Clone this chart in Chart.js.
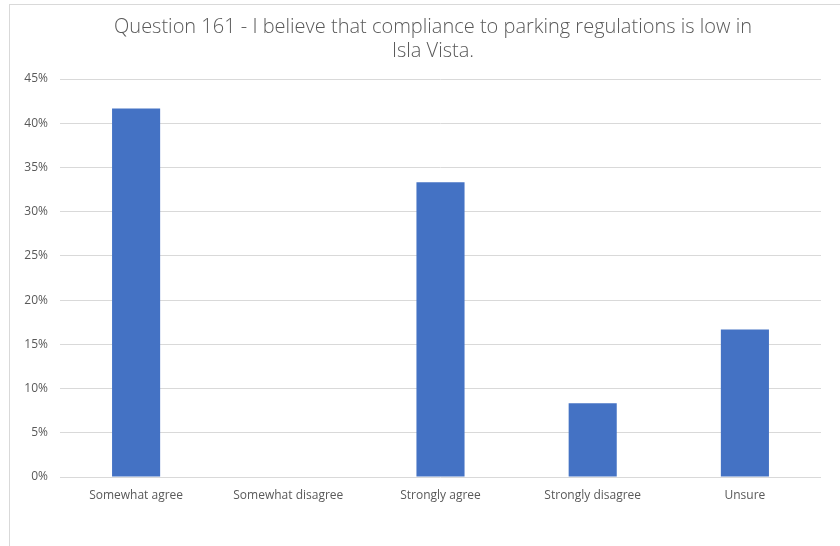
<!DOCTYPE html>
<html>
<head>
<meta charset="utf-8">
<script src="https://cdn.jsdelivr.net/npm/chart.js@4"></script>
<style>
  html, body { margin: 0; padding: 0; background: #fff; }
  #wrap { position: absolute; left: 0; top: 0; width: 840px; height: 546px; }
  #frame { position: absolute; left: 9px; top: 4px; right: 0; bottom: 0;
           border-left: 1px solid #d9d9d9; border-top: 1px solid #d9d9d9; }
</style>
</head>
<body>
<div id="wrap">
  <div id="frame"></div>
  <canvas id="chart" width="840" height="546"></canvas>
</div>
<script>
// survey answers, share of respondents
const categories = ['Somewhat agree', 'Somewhat disagree', 'Strongly agree', 'Strongly disagree', 'Unsure'];
const shares = [0.4167, 0, 0.3333, 0.0833, 0.1667];
const titleLines = ['Question 161 - I believe that compliance to parking regulations is low in', 'Isla Vista.'];

const FONT = "'Open Sans', 'Liberation Sans', sans-serif";
const GREY = '#595959';

// title is drawn by hand so it can sit off-centre like the original
const titlePlugin = {
  id: 'offTitle',
  afterDraw(chart) {
    const ctx = chart.ctx;
    ctx.save();
    ctx.fillStyle = GREY;
    ctx.font = '300 20px ' + FONT;
    ctx.textAlign = 'center';
    ctx.textBaseline = 'middle';
    titleLines.forEach((t, i) => ctx.fillText(t, 433, 27 + i * 24));
    ctx.restore();
  }
};

new Chart(document.getElementById('chart'), {
  type: 'bar',
  data: {
    labels: categories,
    datasets: [{
      data: shares,
      backgroundColor: '#4472c4',
      barPercentage: 0.316,
      categoryPercentage: 1
    }]
  },
  plugins: [titlePlugin],
  options: {
    responsive: false,
    animation: false,
    layout: { padding: { left: 10, right: 19, top: 79, bottom: 0 } },
    plugins: {
      legend: { display: false },
      tooltip: { enabled: false },
      title: { display: false }
    },
    scales: {
      x: {
        grid: { display: false },
        border: { display: false },
        ticks: { color: GREY, font: { family: FONT, size: 12 }, padding: 3, maxRotation: 0 },
        afterFit: s => { s.height = 69; }
      },
      y: {
        min: 0,
        max: 0.45,
        grid: { color: '#d9d9d9', drawTicks: false },
        border: { display: false },
        ticks: {
          stepSize: 0.05,
          color: GREY,
          font: { family: FONT, size: 12 },
          padding: 12,
          callback: v => Math.round(v * 100) + '%'
        },
        afterFit: s => { s.width = 50; }
      }
    }
  }
});
</script>
</body>
</html>
